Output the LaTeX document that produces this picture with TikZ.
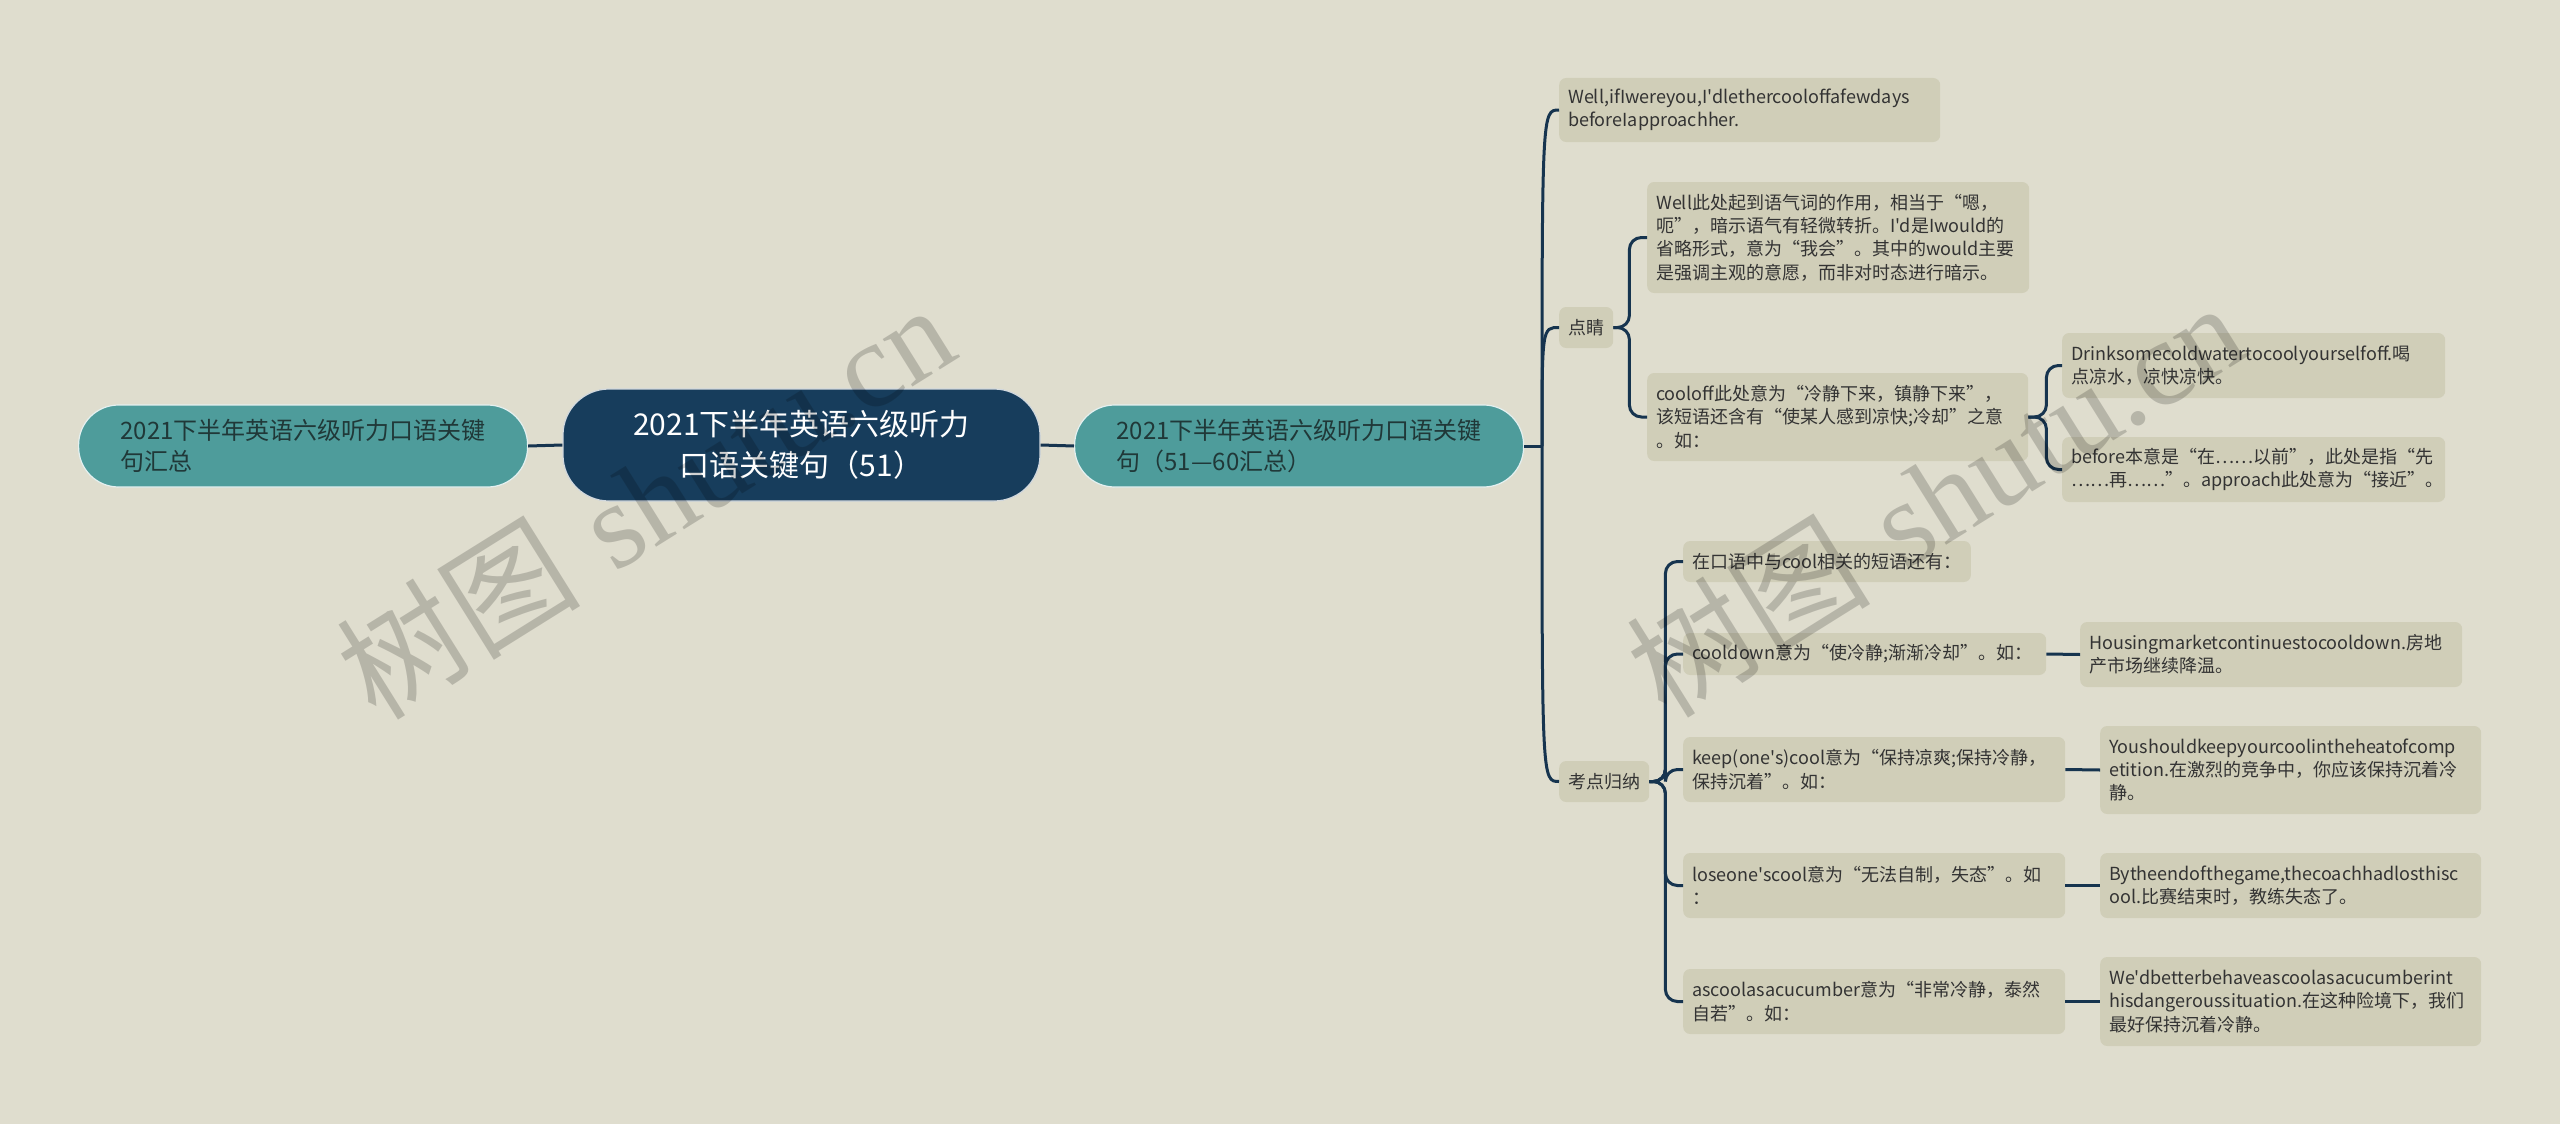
\documentclass[tikz,border=0pt]{standalone}
\usepackage{fontspec}
\newfontfamily\cjkfont{Noto Sans CJK SC}
\newfontfamily\wmserif{Liberation Serif}
\definecolor{bgc}{HTML}{DFDDCE}
\definecolor{leafc}{HTML}{D0CEB8}
\definecolor{tealc}{HTML}{4E9C9B}
\definecolor{navyc}{HTML}{173D5C}
\definecolor{linec}{HTML}{16344F}
\definecolor{txtc}{HTML}{333333}
\definecolor{tealtxt}{HTML}{203838}
\tikzset{
  leaf/.style={fill=leafc, rounded corners=7pt, anchor=west, align=left,
    inner xsep=9pt, inner ysep=3pt, text=txtc, font=\cjkfont\fontsize{18}{23.3}\selectfont},
  pill/.style={fill=tealc, draw=white!85!tealc, line width=1.2pt, rounded corners=40pt,
    anchor=west, align=left, inner xsep=42pt, text=tealtxt,
    font=\cjkfont\fontsize{24}{31}\selectfont, minimum height=82pt},
  rootbox/.style={fill=navyc, draw=white!80!navyc, line width=1.2pt, rounded corners=46pt,
    align=center, text=white, font=\cjkfont\fontsize{30}{41}\selectfont,
    minimum width=477pt, minimum height=112pt},
  conn/.style={draw=linec, line width=3pt, rounded corners=12pt},
  wm/.style={text=black, opacity=0.18, rotate=32, font=\cjkfont\fontsize{122}{122}\selectfont, inner sep=0pt}
}
\begin{document}
\begin{tikzpicture}[x=1pt,y=-1pt]
\fill[bgc] (0,0) rectangle (2560,1124);
\useasboundingbox (0,0) rectangle (2560,1124);

% main nodes
\node[pill, text width=365pt] (L) at (78,446) {2021下半年英语六级听力口语关键\\句汇总};
\node[rootbox] (C) at (801.5,445) {2021下半年英语六级听力\\口语关键句（51）};
\node[pill, text width=365pt] (R) at (1074,446) {2021下半年英语六级听力口语关键\\句（51—60汇总）};

% first level leaves
\node[leaf, text width=363pt, minimum height=64pt] (W1) at (1559,110) {Well,ifIwereyou,I'dlethercooloffafewdays\\beforeIapproachher.};
\node[leaf, minimum height=41pt] (DJ) at (1559,327.5) {点睛};
\node[leaf, minimum height=41pt] (KD) at (1559,781.5) {考点归纳};

% 点睛 children
\node[leaf, text width=364pt, minimum height=111pt] (W2) at (1647,237.5) {Well此处起到语气词的作用，相当于“嗯，\\呃”，暗示语气有轻微转折。I'd是Iwould的\\省略形式，意为“我会”。其中的would主要\\是强调主观的意愿，而非对时态进行暗示。};
\node[leaf, text width=363pt, minimum height=88pt] (CO) at (1647,417) {cooloff此处意为“冷静下来，镇静下来”，\\该短语还含有“使某人感到凉快;冷却”之意\\。如：};
\node[leaf, text width=365pt, minimum height=65pt] (DR) at (2062,365.5) {Drinksomecoldwatertocoolyourselfoff.喝\\点凉水，凉快凉快。};
\node[leaf, text width=365pt, minimum height=65pt] (BF) at (2062,469.5) {before本意是“在……以前”，此处是指“先\\……再……”。approach此处意为“接近”。};

% 考点归纳 children
\node[leaf, minimum height=41pt] (ZK) at (1683,561.5) {在口语中与cool相关的短语还有：};
\node[leaf, text width=345pt, minimum height=42pt] (CD) at (1683,654) {cooldown意为“使冷静;渐渐冷却”。如：};
\node[leaf, text width=364pt, minimum height=65pt] (HS) at (2080,654.5) {Housingmarketcontinuestocooldown.房地\\产市场继续降温。};
\node[leaf, text width=364pt, minimum height=65pt] (KP) at (1683,769.5) {keep(one's)cool意为“保持凉爽;保持冷静，\\保持沉着”。如：};
\node[leaf, text width=363pt, minimum height=88pt] (YS) at (2100,770) {Youshouldkeepyourcoolintheheatofcomp\\etition.在激烈的竞争中，你应该保持沉着冷\\静。};
\node[leaf, text width=364pt, minimum height=65pt] (LS) at (1683,885.5) {loseone'scool意为“无法自制，失态”。如\\：};
\node[leaf, text width=363pt, minimum height=65pt] (BY) at (2100,885.5) {Bytheendofthegame,thecoachhadlosthisc\\ool.比赛结束时，教练失态了。};
\node[leaf, text width=364pt, minimum height=65pt] (AC) at (1683,1001.5) {ascoolasacucumber意为“非常冷静，泰然\\自若”。如：};
\node[leaf, text width=363pt, minimum height=89pt] (WD) at (2100,1001.5) {We'dbetterbehaveascoolasacucumberint\\hisdangeroussituation.在这种险境下，我们\\最好保持沉着冷静。};

% connectors
\draw[conn] (L.east) -- (C.west);
\draw[conn] (C.east) -- (R.west);
\coordinate (TR) at (1542,446);
\draw[conn] (R.east) -- (TR);
\draw[conn, rounded corners=0pt] (TR) .. controls (TR |- W1.west) .. (W1.west);
\draw[conn, rounded corners=0pt] (TR) .. controls (TR |- DJ.west) .. (DJ.west);
\draw[conn, rounded corners=0pt] (TR) .. controls (TR |- KD.west) .. (KD.west);

\draw[conn] (DJ.east) -- ++(16,0) |- (W2.west);
\draw[conn] (DJ.east) -- ++(16,0) |- (CO.west);
\draw[conn] (CO.east) -- ++(18,0) |- (DR.west);
\draw[conn] (CO.east) -- ++(18,0) |- (BF.west);

\draw[conn] (KD.east) -- ++(16,0) |- (ZK.west);
\draw[conn] (KD.east) -- ++(16,0) |- (CD.west);
\draw[conn] (KD.east) -- ++(16,0) |- (KP.west);
\draw[conn] (KD.east) -- ++(16,0) |- (LS.west);
\draw[conn] (KD.east) -- ++(16,0) |- (AC.west);

\draw[conn] (CD.east) -- (HS.west);
\draw[conn] (KP.east) -- (YS.west);
\draw[conn] (LS.east) -- (BY.west);
\draw[conn] (AC.east) -- (WD.west);

% watermarks
\node[wm] (WMa) at (645,500) {树图\hspace{0.3em}{\wmserif shutu.cn}};
\node[wm] (WMb) at (1935,498) {树图\hspace{0.3em}{\wmserif shutu.cn}};
\end{tikzpicture}
\end{document}
